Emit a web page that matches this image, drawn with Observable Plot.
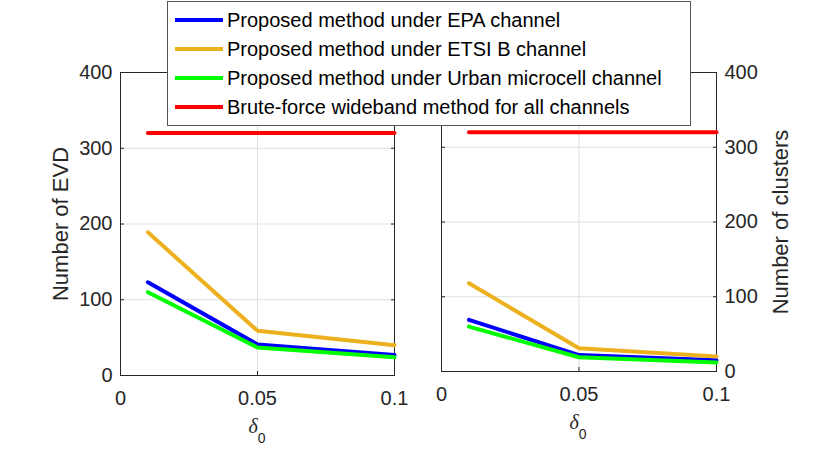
<!DOCTYPE html>
<html><head><meta charset="utf-8">
<script src="https://cdn.jsdelivr.net/npm/d3@7"></script>
<script src="https://cdn.jsdelivr.net/npm/@observablehq/plot@0.6"></script>
<style>
body{margin:0;background:#fff;}
#wrap{position:relative;width:830px;height:471px;overflow:hidden;font-family:"Liberation Sans",Arial,Helvetica,sans-serif;background:#fff;}
#wrap svg{position:absolute;top:0;}
.lg-box{position:absolute;left:167px;top:1px;width:524px;height:125px;box-sizing:border-box;border:1px solid #555;background:#fff;z-index:5;}
.lg-line{position:absolute;left:175px;width:48px;height:4px;z-index:6;}
.lg-text{position:absolute;left:227px;font-size:20px;line-height:20px;color:#000;white-space:nowrap;z-index:6;}
.xl{position:absolute;font-size:20px;line-height:20px;color:#262626;white-space:nowrap;transform:translateX(-50%);}
.xl .d{font-family:"Liberation Serif","Times New Roman",serif;font-style:italic;}
.xl .s{font-size:14px;position:relative;top:10px;}
</style></head><body><div id="wrap"></div>
<script>
const deltas = [0.01, 0.05, 0.1];
const seriesNames = [
  "Proposed method under EPA channel",
  "Proposed method under ETSI B channel",
  "Proposed method under Urban microcell channel",
  "Brute-force wideband method for all channels"
];
const seriesColors = ["#0000ff", "#edb120", "#00ff00", "#ff0000"];

// Left panel: Number of EVD
const evdEPA   = [123, 41, 27];
const evdETSI  = [189, 59, 40];
const evdUrban = [110, 37, 24];
const evdBrute = [320, 320, 320];

// Right panel: Number of clusters
const clEPA   = [69, 22, 15];
const clETSI  = [118, 31, 20];
const clUrban = [60, 19, 12];
const clBrute = [320, 320, 320];

const xTicks = [0, 0.05, 0.1];
const xTickLabels = ["0", "0.05", "0.1"];
const yTicks = [0, 100, 200, 300, 400];
const yTickLabels = ["0", "100", "200", "300", "400"];

function rows(lists) {
  const out = [];
  lists.forEach((vals, s) => vals.forEach((v, i) => out.push({x: deltas[i], y: v, series: seriesNames[s]})));
  return out;
}

const FONT = '"Liberation Sans", Arial, Helvetica, sans-serif';
const INK = "#262626";

function panel({data, width, marginLeft, marginRight, marginBottom, side, label, labelDx}) {
  const other = side === "left" ? "right" : "left";
  return Plot.plot({
    width, height: 471,
    marginLeft, marginRight, marginTop: 72, marginBottom,
    style: {fontFamily: FONT, fontSize: "20px", color: INK, background: "transparent", overflow: "visible"},
    x: {domain: [0, 0.1]},
    y: {domain: [0, 400]},
    color: {domain: seriesNames, range: seriesColors},
    marks: [
      Plot.gridX(xTicks, {stroke: "#dfdfdf", strokeOpacity: 1}),
      Plot.gridY(yTicks, {stroke: "#dfdfdf", strokeOpacity: 1}),
      Plot.axisX({anchor: "bottom", ticks: xTicks, tickSize: 0, tickPadding: 15,
        tickFormat: d => xTickLabels[xTicks.indexOf(d)], label: null, fontSize: 20, fill: INK}),
      Plot.axisX({anchor: "bottom", ticks: xTicks, tickSize: 4, dy: -4, text: null, label: null, stroke: INK}),
      Plot.axisX({anchor: "top", ticks: xTicks, tickSize: 4, dy: 4, text: null, label: null, stroke: INK}),
      Plot.axisY({anchor: side, ticks: yTicks, tickSize: 0, tickPadding: 8,
        tickFormat: d => yTickLabels[yTicks.indexOf(d)], fontSize: 20, fill: INK, label: null}),
      Plot.axisY({anchor: side, ticks: yTicks, tickSize: 4, dx: side === "left" ? 4 : -4, text: null, label: null, stroke: INK}),
      Plot.axisY({anchor: other, ticks: yTicks, tickSize: 4, dx: other === "left" ? 4 : -4, text: null, label: null, stroke: INK}),
      Plot.text([label], {frameAnchor: side, rotate: -90, dx: labelDx, text: d => d,
        fontSize: 22, fill: INK, textAnchor: "middle", lineAnchor: "middle"}),
      Plot.frame({stroke: INK, strokeWidth: 1}),
      Plot.line(data, {x: "x", y: "y", z: "series", stroke: "series", strokeWidth: 4, strokeLinejoin: "round"})
    ]
  });
}

const wrap = document.getElementById("wrap");

const left = panel({
  data: rows([evdEPA, evdETSI, evdUrban, evdBrute]),
  width: 420, marginLeft: 120, marginRight: 26, marginBottom: 96,
  side: "left", label: "Number of EVD", labelDx: -60
});
left.style.left = "0px";
wrap.appendChild(left);

const right = panel({
  data: rows([clEPA, clETSI, clUrban, clBrute]),
  width: 410, marginLeft: 21, marginRight: 114, marginBottom: 100,
  side: "right", label: "Number of clusters", labelDx: 64
});
right.style.left = "420px";
wrap.appendChild(right);

// x-axis labels (δ with subscript 0)
[[257, 416], [578, 412]].forEach(([cx, top]) => {
  const d = document.createElement("div");
  d.className = "xl";
  d.style.left = cx + "px";
  d.style.top = top + "px";
  d.innerHTML = '<span class="d">δ</span><span class="s">0</span>';
  wrap.appendChild(d);
});

// legend
const box = document.createElement("div");
box.className = "lg-box";
wrap.appendChild(box);
const rowCenters = [20, 49, 78, 107];
seriesNames.forEach((name, i) => {
  const ln = document.createElement("div");
  ln.className = "lg-line";
  ln.style.top = (rowCenters[i] - 2) + "px";
  ln.style.background = seriesColors[i];
  wrap.appendChild(ln);
  const t = document.createElement("div");
  t.className = "lg-text";
  t.style.top = (rowCenters[i] - 10) + "px";
  t.textContent = name;
  wrap.appendChild(t);
});
</script>
</body></html>
